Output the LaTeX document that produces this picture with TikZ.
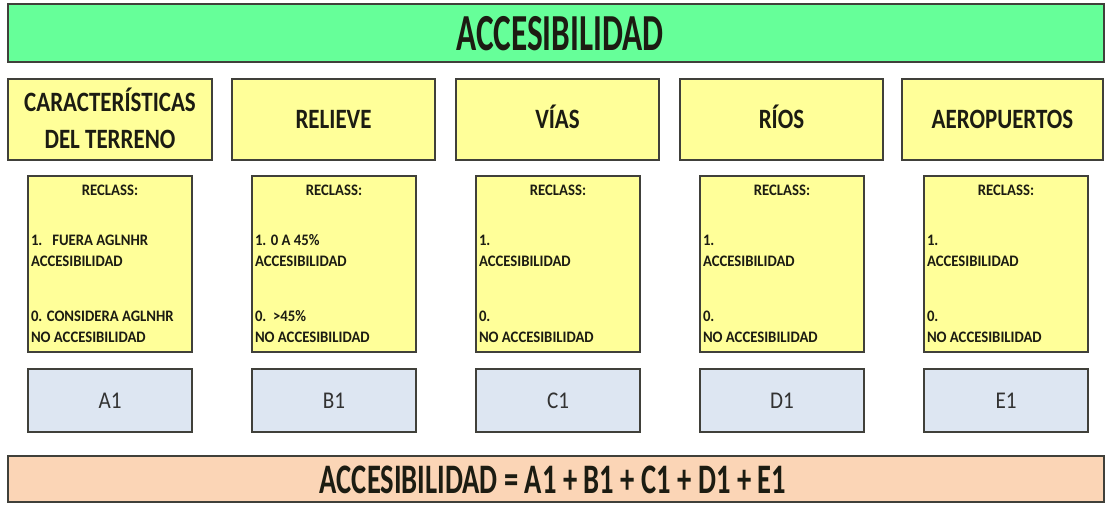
\documentclass[tikz,border=0pt]{standalone}
\usepackage{fontspec}
\setmainfont{Carlito}
\definecolor{barGreen}{RGB}{102,255,153}
\definecolor{boxYellow}{RGB}{255,255,153}
\definecolor{valBlue}{RGB}{221,230,242}
\definecolor{peach}{RGB}{251,213,182}
\definecolor{edgeGray}{RGB}{64,64,58}
\definecolor{inkDark}{RGB}{28,28,18}
\definecolor{inkGray}{RGB}{50,50,50}
\newcommand{\sqz}[3]{\scalebox{#1}[1]{\fontsize{#2}{#2}\selectfont #3}}
\begin{document}
\begin{tikzpicture}[x=1pt,y=-1pt,
  panel/.style={draw=edgeGray, line width=1.4pt, inner sep=0pt, outer sep=0pt, anchor=north west},
  txt/.style={inner sep=0pt, outer sep=0pt, text=inkDark},
  ttl/.style={txt, font=\bfseries, anchor=base},
  hdr/.style={txt, font=\bfseries, anchor=base},
  small/.style={txt, font=\bfseries, anchor=base west},
  val/.style={txt, text=inkGray, anchor=base}
]
\useasboundingbox (0,0) rectangle (1106,504);
\fill[white] (0,0) rectangle (1106,504);

% top bar
\node[panel, fill=barGreen, minimum width=1096pt, minimum height=58pt] (bar) at (8,4) {};
\node[ttl] (title) at (560,50) {\sqz{0.64}{52pt}{ACCESIBILIDAD}};

% header boxes
\node[panel, fill=boxYellow, minimum width=204pt, minimum height=81pt] (hA) at (8,79) {};
\node[panel, fill=boxYellow, minimum width=203pt, minimum height=81pt] (hB) at (232,79) {};
\node[panel, fill=boxYellow, minimum width=203pt, minimum height=81pt] (hC) at (456,79) {};
\node[panel, fill=boxYellow, minimum width=203pt, minimum height=81pt] (hD) at (680,79) {};
\node[panel, fill=boxYellow, minimum width=201pt, minimum height=81pt] (hE) at (902,79) {};
\node[hdr] (hAt1) at (110,111) {\sqz{0.82}{28pt}{CARACTERÍSTICAS}};
\node[hdr] (hAt2) at (110,148) {\sqz{0.82}{28pt}{DEL TERRENO}};
\node[hdr] (hBt) at ([yshift=-9pt]hB.center) {\sqz{0.82}{28pt}{RELIEVE}};
\node[hdr] (hCt) at ([yshift=-9pt]hC.center) {\sqz{0.82}{28pt}{VÍAS}};
\node[hdr] (hDt) at ([yshift=-9pt]hD.center) {\sqz{0.82}{28pt}{RÍOS}};
\node[hdr] (hEt) at ([yshift=-9pt]hE.center) {\sqz{0.82}{28pt}{AEROPUERTOS}};

% reclass boxes and value boxes
\foreach \n/\x in {A/28,B/252,C/476,D/700,E/924}{
  \node[panel, fill=boxYellow, minimum width=164pt, minimum height=176pt] (r\n) at (\x,176) {};
  \node[txt, font=\bfseries, anchor=base] (r\n h) at ([yshift=-19pt]r\n.north) {\sqz{0.92}{16pt}{RECLASS:}};
  \node[panel, fill=valBlue, minimum width=164pt, minimum height=63pt] (v\n) at (\x,369) {};
}
% reclass lines
\node[small] (rA1) at ([xshift=3pt]rA.west |- 0,245) {\sqz{0.92}{16pt}{1.\ \ \ FUERA AGLNHR}};
\node[small] (rA2) at ([xshift=3pt]rA.west |- 0,266) {\sqz{0.92}{16pt}{ACCESIBILIDAD}};
\node[small] (rA3) at ([xshift=3pt]rA.west |- 0,321) {\sqz{0.92}{16pt}{0. CONSIDERA AGLNHR}};
\node[small] (rA4) at ([xshift=3pt]rA.west |- 0,342) {\sqz{0.92}{16pt}{NO ACCESIBILIDAD}};

\node[small] (rB1) at ([xshift=3pt]rB.west |- 0,245) {\sqz{0.92}{16pt}{1. 0 A 45\%}};
\node[small] (rB2) at ([xshift=3pt]rB.west |- 0,266) {\sqz{0.92}{16pt}{ACCESIBILIDAD}};
\node[small] (rB3) at ([xshift=3pt]rB.west |- 0,321) {\sqz{0.92}{16pt}{0.\ \ >45\%}};
\node[small] (rB4) at ([xshift=3pt]rB.west |- 0,342) {\sqz{0.92}{16pt}{NO ACCESIBILIDAD}};

\foreach \n in {C,D,E}{
  \node[small] (r\n 1) at ([xshift=3pt]r\n.west |- 0,245) {\sqz{0.92}{16pt}{1.}};
  \node[small] (r\n 2) at ([xshift=3pt]r\n.west |- 0,266) {\sqz{0.92}{16pt}{ACCESIBILIDAD}};
  \node[small] (r\n 3) at ([xshift=3pt]r\n.west |- 0,321) {\sqz{0.92}{16pt}{0.}};
  \node[small] (r\n 4) at ([xshift=3pt]r\n.west |- 0,342) {\sqz{0.92}{16pt}{NO ACCESIBILIDAD}};
}

% value labels
\node[val] (vAt) at ([yshift=-8pt]vA.center) {\sqz{0.88}{24pt}{A1}};
\node[val] (vBt) at ([yshift=-8pt]vB.center) {\sqz{0.88}{24pt}{B1}};
\node[val] (vCt) at ([yshift=-8pt]vC.center) {\sqz{0.88}{24pt}{C1}};
\node[val] (vDt) at ([yshift=-8pt]vD.center) {\sqz{0.88}{24pt}{D1}};
\node[val] (vEt) at ([yshift=-8pt]vE.center) {\sqz{0.88}{24pt}{E1}};

% bottom bar
\node[panel, fill=peach, minimum width=1096pt, minimum height=46pt] (eq) at (8,456) {};
\node[ttl] (eqt) at (553,493) {\sqz{0.68}{42pt}{ACCESIBILIDAD = A1 + B1 + C1 + D1 + E1}};
\end{tikzpicture}
\end{document}
